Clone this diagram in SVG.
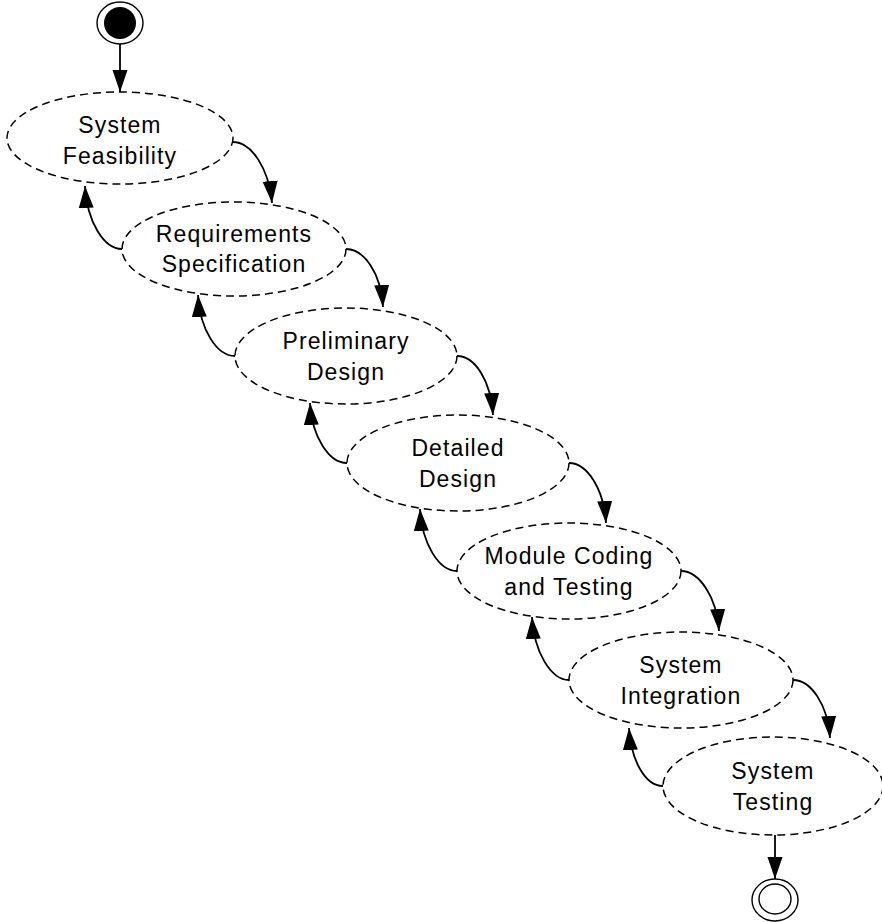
<svg xmlns="http://www.w3.org/2000/svg" width="882" height="922" viewBox="0 0 882 922">
  <style>
    .phase ellipse { fill: #fff; stroke: #000; stroke-width: 1.5; stroke-dasharray: 8 5; }
    .phase text { font-family: "Liberation Sans", Arial, sans-serif; font-size: 23px; letter-spacing: 1.1px; fill: #000; text-anchor: middle; }
    .flow path, .flow line { fill: none; stroke: #000; stroke-width: 1.8; marker-end: url(#head); }
  </style>
  <defs>
    <marker id="head" markerUnits="userSpaceOnUse" markerWidth="22" markerHeight="16" refX="22" refY="8" orient="auto">
      <path d="M0,0.5 L22,8 L0,15.5 Z" fill="#000"/>
    </marker>
  </defs>
  <rect width="882" height="922" fill="#fff"/>

  <!-- initial and final states -->
  <g id="start">
    <ellipse cx="120" cy="23" rx="23" ry="21" fill="#fff" stroke="#000" stroke-width="1.4"/>
    <circle cx="120" cy="23" r="16" fill="#000"/>
  </g>
  <g id="end">
    <ellipse cx="775" cy="900" rx="23" ry="21" fill="#fff" stroke="#000" stroke-width="1.4"/>
    <ellipse cx="775" cy="899" rx="16" ry="15" fill="#fff" stroke="#000" stroke-width="1.4"/>
  </g>

  <!-- phases -->
  <g id="feasibility" class="phase">
    <ellipse cx="120" cy="138" rx="113" ry="46"/>
    <text x="120" y="133">System</text>
    <text x="120" y="164">Feasibility</text>
  </g>
  <g id="requirements" class="phase">
    <ellipse cx="234" cy="249" rx="112" ry="47"/>
    <text x="234" y="242">Requirements</text>
    <text x="234" y="272">Specification</text>
  </g>
  <g id="preliminary" class="phase">
    <ellipse cx="346" cy="356" rx="111" ry="48"/>
    <text x="346" y="349">Preliminary</text>
    <text x="346" y="380">Design</text>
  </g>
  <g id="detailed" class="phase">
    <ellipse cx="458" cy="463" rx="111" ry="48"/>
    <text x="458" y="456">Detailed</text>
    <text x="458" y="487">Design</text>
  </g>
  <g id="coding" class="phase">
    <ellipse cx="569" cy="571" rx="112" ry="48"/>
    <text x="569" y="564">Module Coding</text>
    <text x="569" y="595">and Testing</text>
  </g>
  <g id="integration" class="phase">
    <ellipse cx="681" cy="680" rx="112" ry="48"/>
    <text x="681" y="673">System</text>
    <text x="681" y="704">Integration</text>
  </g>
  <g id="testing" class="phase">
    <ellipse cx="773" cy="786" rx="110" ry="49"/>
    <text x="773" y="779">System</text>
    <text x="773" y="810">Testing</text>
  </g>

  <!-- transitions -->
  <g id="connectors" class="flow">
    <line x1="120" y1="44" x2="120" y2="92"/>
    <line x1="775" y1="835" x2="775" y2="879"/>

    <!-- forward: right side of a phase down to the next one -->
    <path d="M233,142 C251,142 269,168 272,203"/>
    <path d="M346,249 C364,249 381,273 383,307"/>
    <path d="M457,356 C475,356 491,381 493,415"/>
    <path d="M569,463 C587,463 604,489 606,523"/>
    <path d="M681,571 C699,571 717,597 719,631"/>
    <path d="M793,680 C811,680 828,705 830,738"/>

    <!-- back: left side of a phase up to the previous one -->
    <path d="M122,249 C104,249 87,222 85,186"/>
    <path d="M235,356 C217,356 200,330 198,295"/>
    <path d="M347,463 C329,463 312,437 310,403"/>
    <path d="M457,571 C439,571 422,544 420,509"/>
    <path d="M569,680 C551,680 534,652 532,617"/>
    <path d="M663,786 C645,786 631,760 629,728"/>
  </g>
</svg>
